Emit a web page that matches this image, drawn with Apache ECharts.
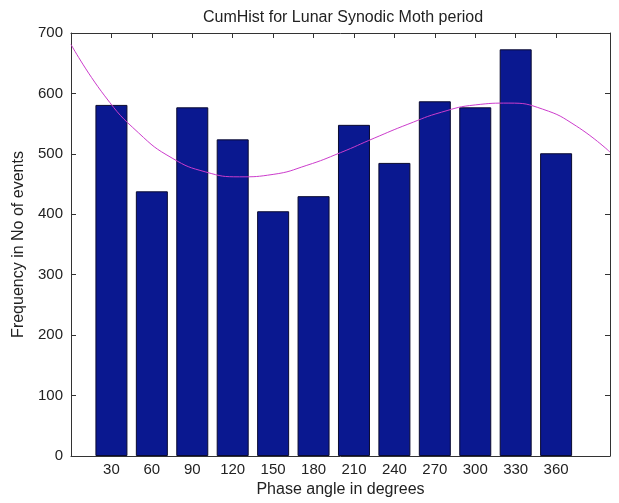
<!DOCTYPE html>
<html>
<head>
<meta charset="utf-8">
<script src="https://cdn.jsdelivr.net/npm/echarts@6/dist/echarts.min.js"></script>
<style>
html,body{margin:0;padding:0;background:#fff;}
#c{width:619px;height:503px;}
</style>
</head>
<body>
<div id="c"></div>
<script>
// Data
var phaseAngles = [30, 60, 90, 120, 150, 180, 210, 240, 270, 300, 330, 360];
var frequencies = [581, 438, 577, 524, 405, 430, 548, 485, 587, 577, 673, 501];
var fitX = [0, 25, 50, 75, 100, 125, 150, 175, 200, 225, 250, 275, 300, 325, 350, 375, 400];
var fitY = [681, 596, 535, 493, 470, 462, 466, 481, 502, 526, 549, 569, 581, 584, 574, 546, 503];
var yTicks = [0, 100, 200, 300, 400, 500, 600, 700];

var chart = echarts.init(document.getElementById('c'), null, {renderer: 'canvas'});
var font = 'Liberation Sans, Arial, Helvetica, sans-serif';
var axisColor = '#333';
var textColor = '#222';

var barData = phaseAngles.map(function (a, i) { return [a, frequencies[i]]; });
var lineData = fitX.map(function (x, i) { return [x, fitY[i]]; });

chart.setOption({
  animation: false,
  backgroundColor: '#fff',
  title: {
    text: 'CumHist for Lunar Synodic Moth period',
    left: 338,
    top: 5,
    textAlign: 'center',
    textStyle: {fontFamily: font, fontSize: 16, fontWeight: 'normal', color: textColor}
  },
  grid: {left: 71, right: 9, top: 33, bottom: 46, containLabel: false},
  xAxis: [{
    type: 'value',
    position: 'bottom',
    min: 0, max: 400,
    name: 'Phase angle in degrees',
    nameLocation: 'middle',
    nameGap: 26,
    nameTextStyle: {fontFamily: font, fontSize: 16, color: textColor},
    axisLine: {show: true, onZero: false, lineStyle: {color: axisColor, width: 1}},
    axisTick: {show: true, inside: true, length: 5, customValues: phaseAngles, lineStyle: {color: axisColor}},
    axisLabel: {show: true, customValues: phaseAngles, margin: 6, fontFamily: font, fontSize: 15, color: textColor},
    splitLine: {show: false}
  }, {
    type: 'value',
    position: 'top',
    min: 0, max: 400,
    axisLine: {show: true, onZero: false, lineStyle: {color: axisColor, width: 1}},
    axisTick: {show: true, inside: true, length: 5, customValues: phaseAngles, lineStyle: {color: axisColor}},
    axisLabel: {show: false},
    splitLine: {show: false}
  }],
  yAxis: [{
    type: 'value',
    position: 'left',
    min: 0, max: 700, interval: 100,
    name: 'Frequency in No of events',
    nameLocation: 'middle',
    nameGap: 37,
    nameTextStyle: {fontFamily: font, fontSize: 16, color: textColor},
    axisLine: {show: true, onZero: false, lineStyle: {color: axisColor, width: 1}},
    axisTick: {show: true, inside: true, length: 5, lineStyle: {color: axisColor}},
    axisLabel: {show: true, margin: 8, fontFamily: font, fontSize: 15, color: textColor,
      customValues: yTicks},
    splitLine: {show: false}
  }, {
    type: 'value',
    position: 'right',
    min: 0, max: 700, interval: 100,
    axisLine: {show: true, onZero: false, lineStyle: {color: axisColor, width: 1}},
    axisTick: {show: true, inside: true, length: 5, lineStyle: {color: axisColor}},
    axisLabel: {show: false},
    splitLine: {show: false}
  }],
  series: [{
    type: 'bar',
    xAxisIndex: 0, yAxisIndex: 0,
    data: barData,
    barWidth: 32,
    itemStyle: {color: '#0a1890', borderColor: '#0a0a30', borderWidth: 1},
    z: 2
  }, {
    type: 'line',
    xAxisIndex: 0, yAxisIndex: 0,
    data: lineData,
    smooth: true,
    showSymbol: false,
    lineStyle: {color: '#cc3ccc', width: 1},
    z: 3
  }]
});
</script>
</body>
</html>
